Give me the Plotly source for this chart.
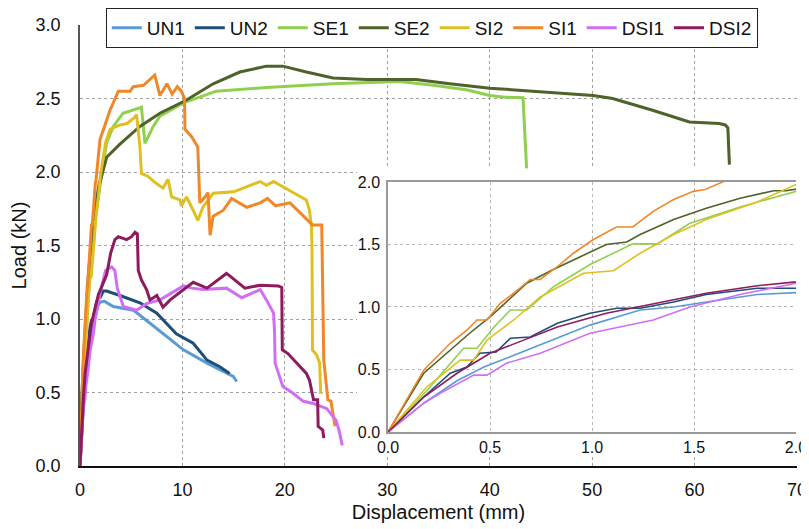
import plotly.graph_objects as go

# ---- data (displacement mm, load kN) ----
series_names = ["UN1", "UN2", "SE1", "SE2", "SI2", "SI1", "DSI1", "DSI2"]
series_colors = ["#5b9bd5", "#1f4e79", "#8fd14f", "#4f6228", "#e0c020", "#f0882a", "#d26ef5", "#8e1b5c"]

un1_x = [0, 0.175, 0.338, 0.47, 0.58, 0.78, 0.99, 1.236, 1.40, 1.56, 1.81, 2.0, 2.4, 3.25, 5.2, 6.5, 8.45, 10.1, 12.4, 14.96, 15.3]
un1_y = [0, 0.23, 0.41, 0.52, 0.59, 0.72, 0.855, 0.976, 1.00, 1.04, 1.10, 1.115, 1.12, 1.085, 1.06, 0.99, 0.88, 0.79, 0.70, 0.61, 0.575]

un2_x = [0, 0.175, 0.305, 0.387, 0.45, 0.53, 0.60, 0.697, 0.83, 0.99, 1.12, 1.236, 1.40, 1.56, 1.81, 2.0, 2.27, 2.6, 3.9, 5.85, 7.5, 9.4, 11.05, 12.4, 13.65, 14.6]
un2_y = [0, 0.28, 0.47, 0.52, 0.63, 0.64, 0.75, 0.76, 0.87, 0.95, 0.99, 0.99, 1.04, 1.10, 1.15, 1.15, 1.19, 1.19, 1.16, 1.11, 1.04, 0.90, 0.835, 0.72, 0.675, 0.63]

se1_x = [0, 0.19, 0.37, 0.436, 0.52, 0.60, 0.68, 0.81, 0.99, 1.20, 1.32, 1.48, 1.726, 2.0, 2.6, 3.25, 4.2, 5.85, 6.0, 6.34, 7.15, 7.8, 10.1, 13.3, 18.2, 24.7, 31.2, 34.5, 37.7, 40.0, 41.3, 43.25, 43.6]
se1_y = [0, 0.33, 0.67, 0.67, 0.84, 0.976, 0.976, 1.16, 1.34, 1.505, 1.505, 1.67, 1.80, 1.93, 2.20, 2.31, 2.40, 2.44, 2.44, 2.195, 2.31, 2.38, 2.47, 2.55, 2.575, 2.60, 2.615, 2.59, 2.56, 2.52, 2.51, 2.505, 2.025]

se2_x = [0, 0.175, 0.40, 0.50, 0.68, 0.81, 0.94, 1.07, 1.17, 1.236, 1.40, 1.56, 1.726, 1.89, 1.95, 2.6, 3.9, 5.85, 7.8, 10.4, 13.0, 15.6, 18.2, 19.8, 22.1, 24.7, 28.0, 32.8, 36.1, 40.0, 44.2, 50.1, 52.0, 55.9, 59.5, 62.4, 63.0, 63.25, 63.4]
se2_y = [0, 0.47, 0.79, 0.92, 1.19, 1.30, 1.40, 1.50, 1.52, 1.58, 1.70, 1.79, 1.87, 1.93, 1.93, 2.10, 2.19, 2.31, 2.40, 2.49, 2.60, 2.68, 2.72, 2.72, 2.68, 2.64, 2.63, 2.63, 2.60, 2.57, 2.55, 2.52, 2.50, 2.42, 2.34, 2.33, 2.32, 2.30, 2.05]

si2_x = [0, 0.19, 0.354, 0.42, 0.485, 0.616, 0.746, 0.958, 1.105, 1.236, 1.40, 1.56, 1.81, 2.0, 2.5, 2.93, 3.9, 4.6, 5.3, 5.53, 5.85, 6.0, 6.66, 7.3, 8.1, 8.6, 8.95, 9.76, 9.9, 10.4, 11.05, 11.5, 12.0, 13.0, 15.0, 16.6, 17.6, 18.2, 18.9, 19.8, 22.1, 22.4, 22.6, 22.65, 22.7, 23.1, 23.4, 23.5]
si2_y = [0, 0.36, 0.575, 0.575, 0.735, 0.896, 1.08, 1.27, 1.29, 1.43, 1.58, 1.70, 1.84, 1.98, 2.20, 2.29, 2.32, 2.33, 2.37, 2.39, 2.17, 1.99, 1.97, 1.93, 1.89, 1.95, 1.83, 1.81, 1.77, 1.83, 1.74, 1.67, 1.76, 1.855, 1.865, 1.91, 1.935, 1.91, 1.935, 1.90, 1.81, 1.74, 1.63, 1.47, 0.79, 0.755, 0.70, 0.49]

si1_x = [0, 0.175, 0.305, 0.387, 0.436, 0.485, 0.55, 0.616, 0.697, 0.746, 0.828, 0.909, 1.007, 1.12, 1.2, 1.30, 1.40, 1.497, 1.555, 1.95, 2.93, 3.74, 4.9, 5.2, 6.2, 6.5, 7.3, 7.8, 8.5, 9.0, 9.5, 9.9, 10.2, 10.25, 10.9, 11.5, 11.7, 12.2, 12.5, 12.7, 13.0, 14.0, 14.8, 16.3, 17.6, 18.3, 19.1, 20.5, 22.7, 23.6, 23.65, 23.8, 24.2, 24.5, 24.9]
si1_y = [0, 0.495, 0.71, 0.815, 0.896, 0.896, 1.03, 1.11, 1.22, 1.22, 1.32, 1.43, 1.54, 1.64, 1.64, 1.765, 1.86, 1.925, 1.94, 2.22, 2.42, 2.55, 2.55, 2.58, 2.59, 2.61, 2.66, 2.52, 2.60, 2.53, 2.58, 2.55, 2.50, 2.29, 2.24, 2.17, 1.79, 1.83, 1.86, 1.57, 1.70, 1.74, 1.82, 1.76, 1.79, 1.82, 1.77, 1.79, 1.64, 1.64, 1.40, 0.72, 0.45, 0.44, 0.27]

dsi1_x = [0, 0.175, 0.256, 0.42, 0.485, 0.58, 0.746, 0.99, 1.30, 1.48, 1.726, 2.0, 2.5, 3.09, 3.4, 3.64, 4.23, 5.53, 6.5, 7.8, 10.1, 10.9, 12.0, 14.3, 15.8, 17.6, 18.2, 18.9, 19.0, 19.05, 19.8, 20.8, 21.8, 22.8, 24.1, 25.0, 25.3, 25.6]
dsi1_y = [0, 0.23, 0.31, 0.455, 0.455, 0.55, 0.63, 0.79, 0.896, 1.00, 1.10, 1.19, 1.33, 1.355, 1.33, 1.21, 1.085, 1.06, 1.105, 1.13, 1.225, 1.21, 1.20, 1.21, 1.145, 1.20, 1.13, 1.04, 0.90, 0.70, 0.54, 0.495, 0.44, 0.425, 0.39, 0.31, 0.24, 0.14]

dsi2_x = [0, 0.175, 0.338, 0.50, 0.665, 0.83, 1.07, 1.32, 1.56, 1.81, 2.0, 2.6, 3.0, 3.41, 3.74, 4.55, 5.04, 5.37, 5.6, 5.69, 6.0, 6.5, 6.83, 7.5, 8.1, 8.8, 11.05, 12.4, 14.3, 14.5, 16.1, 17.6, 19.35, 19.7, 19.75, 20.3, 22.1, 22.4, 22.8, 23.2, 23.25, 23.7, 23.8]
dsi2_y = [0, 0.28, 0.47, 0.63, 0.735, 0.84, 0.95, 1.03, 1.11, 1.17, 1.20, 1.30, 1.45, 1.54, 1.56, 1.54, 1.56, 1.59, 1.58, 1.33, 1.265, 1.20, 1.13, 1.16, 1.08, 1.13, 1.25, 1.21, 1.31, 1.30, 1.21, 1.23, 1.225, 1.215, 0.79, 0.765, 0.63, 0.585, 0.45, 0.45, 0.27, 0.245, 0.19]

series_x = [un1_x, un2_x, se1_x, se2_x, si2_x, si1_x, dsi1_x, dsi2_x]
series_y = [un1_y, un2_y, se1_y, se2_y, si2_y, si1_y, dsi1_y, dsi2_y]

main_x_ticks = [0, 10, 20, 30, 40, 50, 60, 70]
main_y_ticks = [0.0, 0.5, 1.0, 1.5, 2.0, 2.5, 3.0]
inset_ticks = [0.0, 0.5, 1.0, 1.5, 2.0]

FONT = "Arial, Liberation Sans, sans-serif"

fig = go.Figure()

for name, col, xs, ys in zip(series_names, series_colors, series_x, series_y):
    fig.add_trace(go.Scatter(x=xs, y=ys, mode="lines", name=name,
                             line=dict(color=col, width=3), xaxis="x", yaxis="y"))

# empty trace to create the white cover subplot behind the inset
fig.add_trace(go.Scatter(x=[], y=[], xaxis="x2", yaxis="y2", showlegend=False, hoverinfo="skip"))

for name, col, xs, ys in zip(series_names, series_colors, series_x, series_y):
    fig.add_trace(go.Scatter(x=xs, y=ys, mode="lines", name=name, showlegend=False,
                             line=dict(color=col, width=1.6), xaxis="x3", yaxis="y3"))

grid_main = "#a0a0a0"
grid_inset = "#b8b8b8"

# page body has an 8px default margin, so the figure is 8px smaller
fig.update_layout(
    width=801, height=521,
    margin=dict(l=72, r=12, t=17, b=63, autoexpand=False),
    paper_bgcolor="white", plot_bgcolor="white",
    font=dict(family=FONT, color="#111111"),
    showlegend=True,
    legend=dict(orientation="h", x=0.036, y=1.0385, xanchor="left", yanchor="top",
                bordercolor="#222222", borderwidth=1, bgcolor="white",
                font=dict(size=19, family=FONT), itemwidth=30, tracegroupgap=0),
    xaxis=dict(domain=[0, 1], range=[0, 70], tickvals=main_x_ticks, ticktext=[str(v) for v in main_x_ticks],
               showgrid=True, gridcolor=grid_main, griddash="dot", gridwidth=1,
               showline=True, linecolor="#111111", linewidth=1.5, zeroline=False, automargin=False,
               ticks="", tickfont=dict(size=18), ticklabelstandoff=7,
               title=dict(text="Displacement (mm)", font=dict(size=20), standoff=6)),
    yaxis=dict(domain=[0, 1], range=[0, 3], tickvals=main_y_ticks, ticktext=["%.1f" % v for v in main_y_ticks],
               showgrid=True, gridcolor=grid_main, griddash="dot", gridwidth=1,
               showline=True, linecolor="#555555", linewidth=1.5, zeroline=False, automargin=False,
               ticks="", tickfont=dict(size=18), ticklabelstandoff=14,
               title=dict(text="Load (kN)", font=dict(size=20), standoff=10)),
    xaxis2=dict(domain=[0.3863, 1.0], range=[0, 1], visible=False, anchor="y2", fixedrange=True),
    yaxis2=dict(domain=[0.0227, 0.6735], range=[0, 1], visible=False, anchor="x2", fixedrange=True),
    xaxis3=dict(domain=[0.4296, 0.9986], range=[0, 2], anchor="y3", tickvals=inset_ticks,
                ticktext=["%.1f" % v for v in inset_ticks],
                showgrid=True, gridcolor=grid_inset, griddash="dot", gridwidth=1,
                showline=True, mirror=True, linecolor="#999999", linewidth=1.5, zeroline=False,
                automargin=False, ticks="", tickfont=dict(size=16)),
    yaxis3=dict(domain=[0.0771, 0.644], range=[0, 2], anchor="x3", tickvals=inset_ticks,
                ticktext=["%.1f" % v for v in inset_ticks],
                showgrid=True, gridcolor=grid_inset, griddash="dot", gridwidth=1,
                showline=True, linecolor="#999999", linewidth=1.5, zeroline=False,
                automargin=False, ticks="", tickfont=dict(size=16), ticklabelstandoff=3),
)

fig.write_html("out.html")
